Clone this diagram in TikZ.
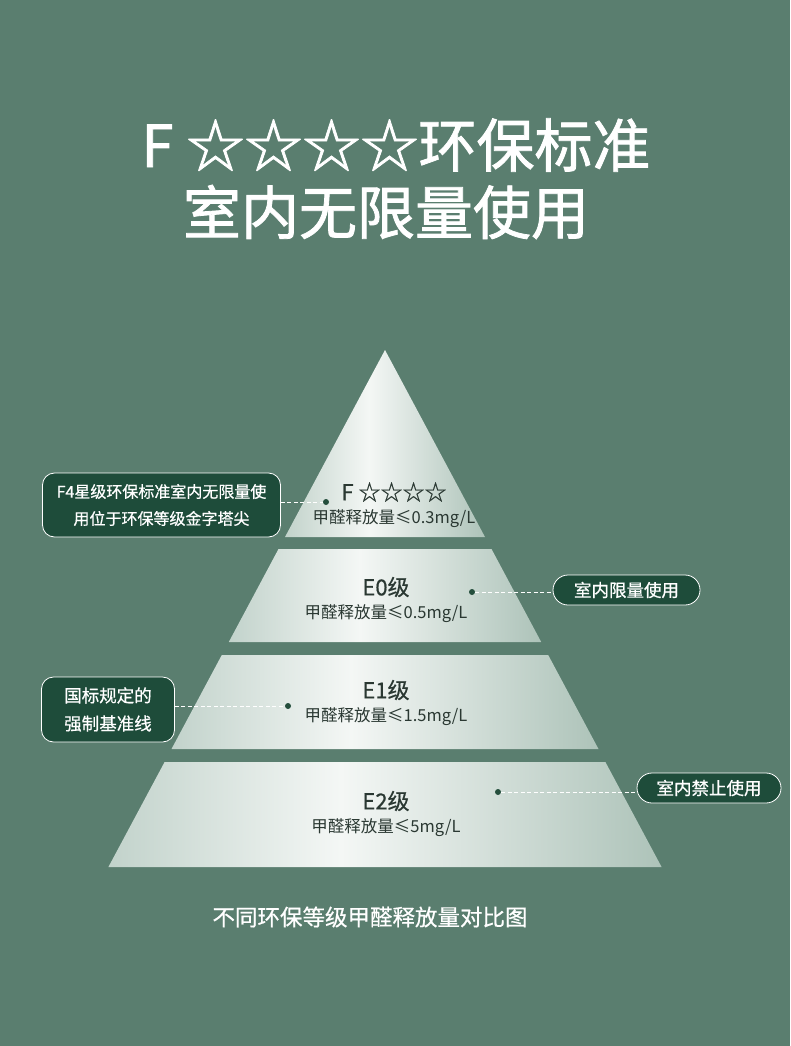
\documentclass[tikz,border=0pt]{standalone}
\usepackage{fontspec}
\setmainfont{Noto Sans CJK SC}
\newfontfamily\headfont[FakeBold=1.4]{Noto Sans CJK SC}
\newfontfamily\mediumfont[FakeBold=0.6]{Noto Sans CJK SC}
\usetikzlibrary{positioning,calc}

\definecolor{bggreen}{RGB}{90,126,111}
\definecolor{boxgreen}{RGB}{30,76,58}
\definecolor{dotgreen}{RGB}{36,78,60}
\definecolor{tierink}{RGB}{42,56,50}
\definecolor{tierleft}{RGB}{134,167,153}
\definecolor{tiermid}{RGB}{244,247,245}
\definecolor{tierright}{RGB}{112,150,133}
\pgfdeclarehorizontalshading{tiershade}{100bp}{color(0bp)=(tierleft); color(46bp)=(tiermid); color(100bp)=(tierright)}

\begin{document}
\begin{tikzpicture}[x=1pt,y=-1pt]
\tikzset{
  tier/.style={shading=tiershade},
  headline/.style={text=white, inner sep=0pt, font=\headfont\fontsize{58}{60}\selectfont},
  grade/.style={text=tierink, inner sep=0pt, font=\mediumfont\fontsize{22}{24}\selectfont},
  limit/.style={text=tierink, inner sep=0pt, font=\fontsize{16.5}{18}\selectfont},
  note/.style={rectangle, draw=white, line width=0.8pt, fill=boxgreen, rounded corners=12pt,
    text=white, align=center, font=\mediumfont\fontsize{16}{27}\selectfont},
  pill/.style={note, rounded corners=15pt, minimum height=30pt, font=\mediumfont\fontsize{17.5}{20}\selectfont},
  dot/.style={circle, fill=dotgreen, inner sep=0pt, minimum size=6pt},
  link/.style={draw=white, dash pattern=on 4pt off 2.5pt, line width=0.8pt}
}

% Background
\fill[bggreen] (0,0) rectangle (790,1046);
\useasboundingbox (0,0) rectangle (790,1046);

% Title
\node[headline] (head1) at (396,145) {F ☆☆☆☆环保标准};
\node[headline] (head2) at (386,212) {室内无限量使用};

% Pyramid tiers
\shade[tier] (385,350) -- (485,537) -- (285,537) -- cycle;
\shade[tier] (278.5,549) -- (491.5,549) -- (541.2,642) -- (228.8,642) -- cycle;
\shade[tier] (221.8,655) -- (548.2,655) -- (598.5,749) -- (171.5,749) -- cycle;
\shade[tier] (164.6,762) -- (605.4,762) -- (661.6,867) -- (108.4,867) -- cycle;

% Tier labels
\node[grade] (f4) at (394,492) {F ☆☆☆☆};
\node[limit, below=7pt of f4] (f4lim) {甲醛释放量≤0.3mg/L};
\node[grade] (e0) at (386,587) {E0级};
\node[limit, below=7pt of e0] (e0lim) {甲醛释放量≤0.5mg/L};
\node[grade] (e1) at (386,690) {E1级};
\node[limit, below=7pt of e1] (e1lim) {甲醛释放量≤1.5mg/L};
\node[grade] (e2) at (386,801) {E2级};
\node[limit, below=7pt of e2] (e2lim) {甲醛释放量≤5mg/L};

% Notes
\node[note, minimum width=238pt, minimum height=64pt] (notef4) at (161.5,505)
  {F4星级环保标准室内无限量使\\用位于环保等级金字塔尖};
\node[pill, minimum width=147pt] (notee0) at (626.5,590) {室内限量使用};
\node[note, minimum width=133pt, minimum height=65pt, font=\mediumfont\fontsize{17.5}{28}\selectfont] (notee1) at (108,709.5)
  {国标规定的\\强制基准线};
\node[pill, minimum width=144pt] (notee2) at (709,788) {室内禁止使用};

% Dots and links
\node[dot] (dotf4) at (326,502) {};
\node[dot] (dote0) at (472,592) {};
\node[dot] (dote1) at (288,706) {};
\node[dot] (dote2) at (498,792) {};
\draw[link] (notef4.east |- dotf4) -- (dotf4);
\draw[link] (dote0) -- (dote0 -| notee0.west);
\draw[link] (notee1.east |- dote1) -- (dote1);
\draw[link] (dote2) -- (dote2 -| notee2.west);

% Caption
\node[text=white, inner sep=0pt, font=\mediumfont\fontsize{22.5}{24}\selectfont] (caption) at (370,917)
  {不同环保等级甲醛释放量对比图};
\end{tikzpicture}
\end{document}
